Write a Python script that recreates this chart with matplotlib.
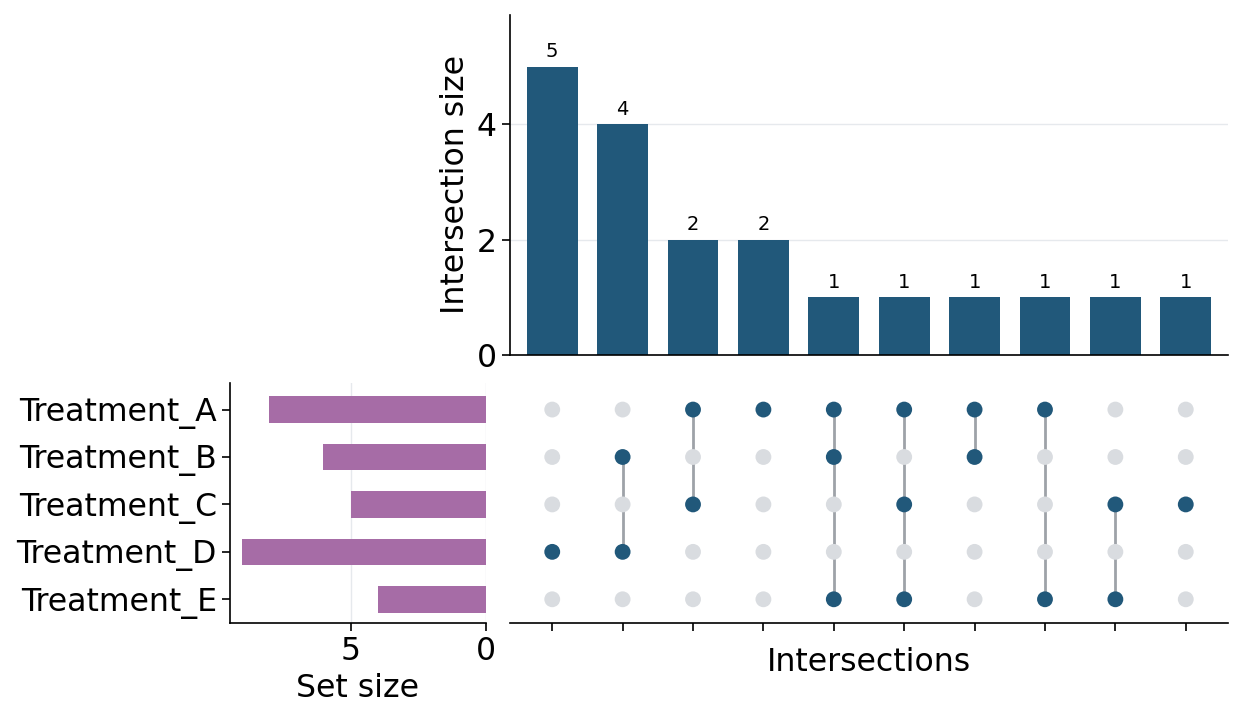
import matplotlib.pyplot as plt
import numpy as np

sets = ["Treatment_A", "Treatment_B", "Treatment_C", "Treatment_D", "Treatment_E"]
set_sizes = [8, 6, 5, 9, 4]
inter_sizes = [5, 4, 2, 2, 1, 1, 1, 1, 1, 1]
# membership of each intersection column (set names)
members = [
	["Treatment_D"],
	["Treatment_B", "Treatment_D"],
	["Treatment_A", "Treatment_C"],
	["Treatment_A"],
	["Treatment_A", "Treatment_B", "Treatment_E"],
	["Treatment_A", "Treatment_C", "Treatment_E"],
	["Treatment_A", "Treatment_B"],
	["Treatment_A", "Treatment_E"],
	["Treatment_C", "Treatment_E"],
	["Treatment_C"],
]

BLUE = "#21587a"
PURPLE = "#a66ca6"
GREY_DOT = "#d9dce0"
GREY_LINE = "#9ea2a8"
GRID = "#e6e9ed"
FS = 22.7


def main():
	W, H = 1244, 722
	fig = plt.figure(figsize=(W / 100, H / 100), dpi=100)
	ax_bar = fig.add_axes([510 / W, (H - 355) / H, 718 / W, 340 / H])
	ax_mat = fig.add_axes([510 / W, (H - 623) / H, 718 / W, 240 / H])
	ax_set = fig.add_axes([230 / W, (H - 623) / H, 256 / W, 240 / H])

	n = len(inter_sizes)
	x = np.arange(n)

	# intersection bars
	ax_bar.bar(x, inter_sizes, width=0.72, color=BLUE, zorder=2)
	for xi, v in zip(x, inter_sizes):
		ax_bar.text(xi, v + 0.1, str(v), ha="center", va="bottom", fontsize=14)
	ax_bar.set_xlim(-0.6, n - 0.4)
	ax_bar.set_ylim(0, 5.9)
	ax_bar.set_yticks([0, 2, 4])
	ax_bar.set_xticks([])
	ax_bar.yaxis.grid(True, color=GRID, linewidth=1, zorder=0)
	ax_bar.set_ylabel("Intersection size", fontsize=FS)
	ax_bar.tick_params(axis="y", labelsize=FS, width=1.2, length=6)
	for s in ["top", "right"]:
		ax_bar.spines[s].set_visible(False)
	for s in ["left", "bottom"]:
		ax_bar.spines[s].set_linewidth(1.2)

	# matrix
	rows = {name: i for i, name in enumerate(sets)}
	for xi, mem in enumerate(members):
		active = [rows[m] for m in mem]
		if len(active) > 1:
			ax_mat.plot([xi, xi], [min(active), max(active)], color=GREY_LINE, linewidth=2, zorder=1)
		for r in range(len(sets)):
			c = BLUE if r in active else GREY_DOT
			ax_mat.scatter(xi, r, s=130, color=c, zorder=2, edgecolors="none")
	ax_mat.set_xlim(-0.6, n - 0.4)
	ax_mat.set_ylim(len(sets) - 0.5, -0.56)
	ax_mat.set_xticks(x)
	ax_mat.set_xticklabels([])
	ax_mat.set_yticks([])
	ax_mat.tick_params(axis="x", width=1.2, length=6)
	ax_mat.set_xlabel("Intersections", fontsize=FS, labelpad=8)
	for s in ["top", "right", "left"]:
		ax_mat.spines[s].set_visible(False)
	ax_mat.spines["bottom"].set_linewidth(1.2)

	# set sizes
	ax_set.barh(np.arange(len(sets)), set_sizes, height=0.56, color=PURPLE, zorder=2)
	ax_set.set_ylim(len(sets) - 0.5, -0.56)
	ax_set.set_xlim(9.45, 0)
	ax_set.set_xticks([5, 0])
	ax_set.set_yticks(np.arange(len(sets)))
	ax_set.set_yticklabels(sets)
	ax_set.xaxis.grid(True, color=GRID, linewidth=1, zorder=0)
	ax_set.tick_params(labelsize=FS, width=1.2, length=6)
	ax_set.set_xlabel("Set size", fontsize=FS)
	for s in ["top", "right"]:
		ax_set.spines[s].set_visible(False)
	for s in ["left", "bottom"]:
		ax_set.spines[s].set_linewidth(1.2)

	fig.savefig("out.png", dpi=100)


if __name__ == "__main__":
	main()
